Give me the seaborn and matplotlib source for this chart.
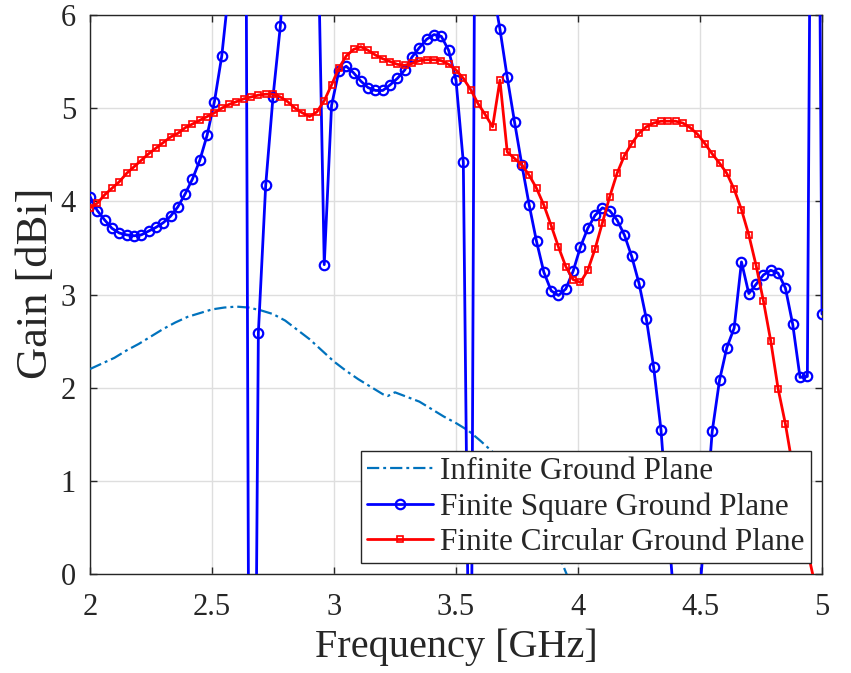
import numpy as np
import pandas as pd
import matplotlib
matplotlib.use("Agg")
import matplotlib.pyplot as plt
import seaborn as sns

# ---------------- data ----------------
# Infinite ground plane (dash-dot)
inf_freq = [2.00, 2.05, 2.10, 2.15, 2.20, 2.25, 2.30, 2.35, 2.40, 2.45, 2.50,
            2.55, 2.60, 2.65, 2.70, 2.75, 2.80, 2.85, 2.90, 2.95, 3.00, 3.05,
            3.10, 3.15, 3.20, 3.22, 3.25, 3.30, 3.35, 3.40, 3.45, 3.50, 3.55,
            3.60, 3.65, 3.70, 3.75, 3.80, 3.85, 3.90, 3.95, 4.00]
inf_gain = [2.20, 2.26, 2.32, 2.40, 2.47, 2.55, 2.63, 2.70, 2.76, 2.80, 2.84,
            2.86, 2.87, 2.86, 2.83, 2.79, 2.72, 2.62, 2.52, 2.40, 2.28, 2.18,
            2.09, 2.01, 1.93, 1.91, 1.95, 1.90, 1.85, 1.77, 1.69, 1.62, 1.54,
            1.43, 1.31, 1.17, 1.01, 0.82, 0.60, 0.34, 0.02, -0.30]

# Finite ground planes sampled on a 0.03 GHz grid from 2 to 5 GHz
fin_freq = np.linspace(2.0, 5.0, 101)
square_gain = [4.05, 3.90, 3.80, 3.71, 3.66, 3.64, 3.63, 3.64, 3.68, 3.72,
               3.77, 3.84, 3.94, 4.08, 4.24, 4.44, 4.71, 5.07, 5.56, 6.30,
               9.00, 14.0, -8.00, 2.59, 4.17, 5.12, 5.88, 7.00, 9.00, 10.0,
               9.00, 7.50, 3.32, 5.03, 5.40, 5.45, 5.38, 5.29, 5.22, 5.19,
               5.19, 5.25, 5.32, 5.41, 5.55, 5.65, 5.74, 5.79, 5.77, 5.62,
               5.30, 4.42, -3.00, 15.0, 10.0, 6.30, 5.85, 5.33, 4.85, 4.39,
               3.96, 3.57, 3.24, 3.04, 2.99, 3.06, 3.25, 3.51, 3.71, 3.85,
               3.93, 3.90, 3.80, 3.64, 3.41, 3.12, 2.74, 2.22, 1.55, 0.50,
               -0.50, -1.20, -1.20, -0.50, 0.50, 1.53, 2.08, 2.43, 2.64, 3.35,
               3.01, 3.11, 3.21, 3.26, 3.23, 3.07, 2.68, 2.11, 2.12, 15.0,
               2.79]
circular_gain = [3.93, 3.98, 4.07, 4.14, 4.21, 4.30, 4.37, 4.44, 4.51, 4.57,
                 4.63, 4.69, 4.73, 4.79, 4.83, 4.87, 4.91, 4.95, 5.00, 5.04,
                 5.07, 5.10, 5.12, 5.14, 5.15, 5.15, 5.12, 5.07, 5.00, 4.95,
                 4.91, 4.96, 5.08, 5.25, 5.43, 5.56, 5.63, 5.66, 5.62, 5.57,
                 5.53, 5.50, 5.47, 5.46, 5.48, 5.51, 5.52, 5.52, 5.51, 5.47,
                 5.41, 5.32, 5.20, 5.05, 4.93, 4.80, 5.30, 4.53, 4.46, 4.39,
                 4.28, 4.14, 3.96, 3.74, 3.51, 3.30, 3.16, 3.13, 3.26, 3.49,
                 3.77, 4.05, 4.30, 4.49, 4.62, 4.73, 4.80, 4.84, 4.86, 4.86,
                 4.86, 4.84, 4.79, 4.72, 4.62, 4.51, 4.41, 4.30, 4.13, 3.91,
                 3.64, 3.31, 2.93, 2.50, 1.99, 1.61, 1.15, 0.70, 0.26, -0.10,
                 -0.50]

labels = ["Infinite Ground Plane", "Finite Square Ground Plane",
          "Finite Circular Ground Plane"]
x_ticks = [2, 2.5, 3, 3.5, 4, 4.5, 5]
x_ticklabels = ["2", "2.5", "3", "3.5", "4", "4.5", "5"]
y_ticks = [0, 1, 2, 3, 4, 5, 6]

# ---------------- style ----------------
sns.set_theme(style="white")
plt.rcParams["font.family"] = ["Liberation Serif", "DejaVu Serif"]

fig = plt.figure(figsize=(8.51, 6.73), dpi=100)
ax = fig.add_axes([90 / 851, 1 - 574 / 673, (822 - 90) / 851, (574 - 15) / 673])

df_inf = pd.DataFrame({"f": inf_freq, "g": inf_gain})
df_sq = pd.DataFrame({"f": fin_freq, "g": square_gain})
df_ci = pd.DataFrame({"f": fin_freq, "g": circular_gain})

sns.lineplot(data=df_inf, x="f", y="g", ax=ax, color="#0072BD",
             linewidth=1.6, linestyle=(0, (5.5, 1.8, 1.3, 1.8)),
             label=labels[0], zorder=3)
sns.lineplot(data=df_sq, x="f", y="g", ax=ax, color="#0000FF",
             linewidth=2.0, marker="o", markersize=6.8,
             markerfacecolor="none", markeredgecolor="#0000FF",
             markeredgewidth=1.6, label=labels[1], zorder=4)
sns.lineplot(data=df_ci, x="f", y="g", ax=ax, color="#FF0000",
             linewidth=2.0, marker="s", markersize=5.0,
             markerfacecolor="none", markeredgecolor="#FF0000",
             markeredgewidth=1.2, label=labels[2], zorder=5)

ax.set_xlim(2, 5)
ax.set_ylim(0, 6)
ax.set_xticks(x_ticks)
ax.set_xticklabels(x_ticklabels)
ax.set_yticks(y_ticks)

ax.grid(True, color="#dedede", linewidth=1.0)
ax.set_axisbelow(True)
for s in ax.spines.values():
    s.set_visible(True)
    s.set_color("#262626")
    s.set_linewidth(1.0)

ax.tick_params(axis="both", which="both", direction="in", length=5,
               width=1.0, color="#262626", labelsize=22, labelcolor="#262626",
               top=True, right=True, bottom=True, left=True)
ax.tick_params(axis="x", pad=14)
ax.tick_params(axis="y", pad=10)

ax.set_xlabel("Frequency [GHz]", fontsize=29, color="#262626", labelpad=4)
ax.set_ylabel("Gain [dBi]", fontsize=32, color="#262626")
ax.yaxis.set_label_coords(-0.046, 0.52)

leg = ax.legend(loc="lower right", fontsize=22.5, frameon=True, fancybox=False,
                framealpha=1.0, edgecolor="#262626", facecolor="white",
                handlelength=2.1, handletextpad=0.25, labelspacing=0.2,
                borderpad=0.2, borderaxespad=0.35)
leg.get_frame().set_linewidth(1.0)
leg.set_zorder(10)

fig.savefig("out.png", dpi=100)
